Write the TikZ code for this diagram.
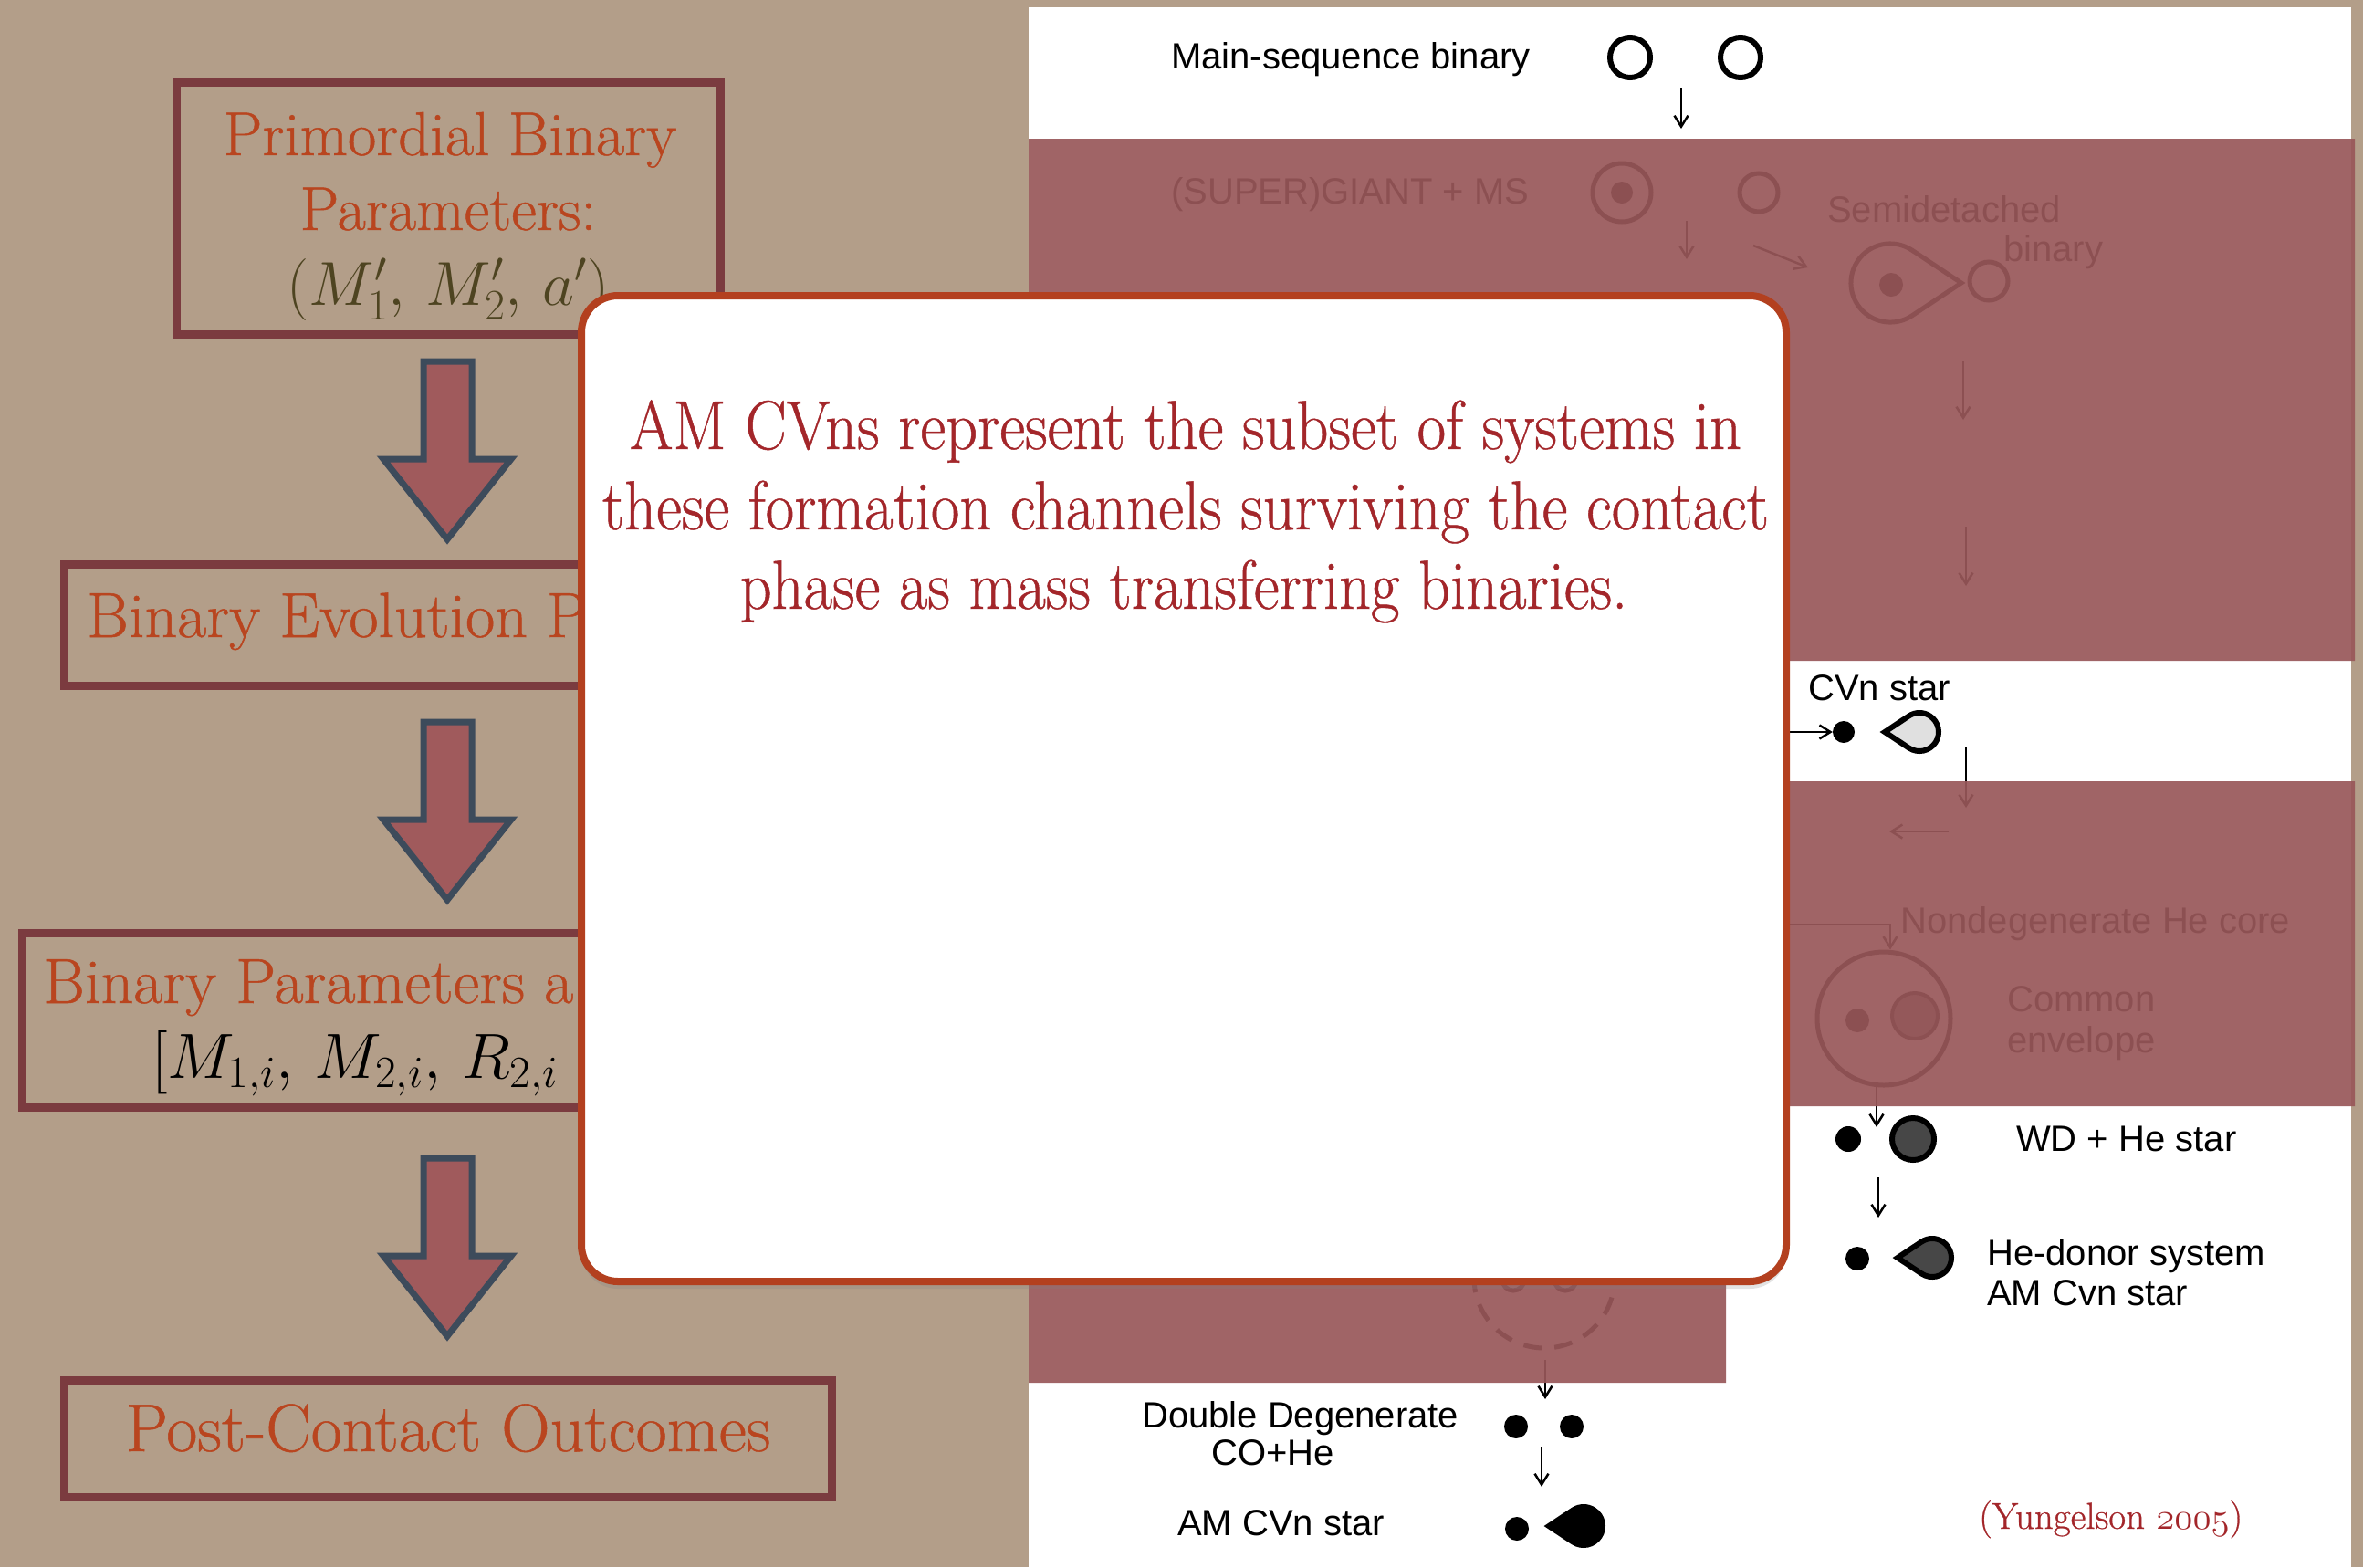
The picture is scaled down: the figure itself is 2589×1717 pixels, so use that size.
\RequirePackage{fix-cm}
\documentclass[tikz,border=0pt]{standalone}
\usepackage{fontspec}
\setsansfont{Liberation Sans}
\newfontfamily\notefont[FakeStretch=0.9, FakeBold=0.6]{Latin Modern Roman}
\newfontfamily\stagefont[FakeBold=0.7]{Latin Modern Roman}
\usetikzlibrary{arrows.meta,shadows}

\definecolor{paper}{HTML}{B39E89}
\definecolor{boxline}{HTML}{7B3B3F}
\definecolor{rust}{HTML}{B9451F}
\definecolor{olive}{HTML}{4E4421}
\definecolor{arrowfill}{HTML}{A05A5C}
\definecolor{arrowline}{HTML}{3D4B5B}
\definecolor{veil}{RGB}{152,87,89}
\definecolor{notered}{HTML}{A3262A}
\definecolor{calloutline}{HTML}{B3401F}

\tikzset{
  stage/.style={draw=boxline, line width=9pt, inner sep=0pt},
  stagetext/.style={text=rust, font=\stagefont\fontsize{70}{82}\selectfont, inner sep=0pt, anchor=base},
  bigarrow/.style={fill=arrowfill, draw=arrowline, line width=7pt},
  lab/.style={font=\sffamily\fontsize{40}{46}\selectfont, anchor=base west, inner sep=0pt},
  ring/.style={circle, draw, line width=6pt, inner sep=0pt, minimum size=44pt},
  core/.style={circle, fill, inner sep=0pt, minimum size=26pt},
  flow/.style={line width=2.5pt, -{Straight Barb[length=12pt,width=15pt]}},
  notetext/.style={text=notered, font=\notefont\fontsize{76}{88}\selectfont, inner sep=0pt, anchor=base},
  pics/donor/.style={code={
    \draw[pic actions] (-38,0) -- (123:21) arc[start angle=123, end angle=-123, radius=21] -- cycle;
  }},
}

\begin{document}
\begin{tikzpicture}[x=1pt, y=-1pt]
\useasboundingbox (0,0) rectangle (2589,1717);
\fill[paper] (0,0) rectangle (2589,1717);

% left column: stages of the population synthesis
\node[stage, minimum width=596pt, minimum height=276pt] (primordial) at (491.5,228.5) {};
\node[stagetext, font=\stagefont\fontsize{68}{80}\selectfont] (primordial-l1) at (493,170) {Primordial Binary};
\node[stagetext, font=\stagefont\fontsize{68}{80}\selectfont] (primordial-l2) at (491,252) {Parameters:};
\node[stagetext, font=\fontsize{68}{80}\selectfont, text=olive] (primordial-l3) at (491,334) {$(M_1',\, M_2',\, a')$};

\node[stage, minimum width=841pt, minimum height=133pt] (evolution) at (491,685) {};
\node[stagetext, anchor=base west] (evolution-l1) at (95,698) {Binary Evolution P};

\node[stage, minimum width=933pt, minimum height=191pt] (contact) at (491,1118) {};
\node[stagetext, anchor=base west] (contact-l1) at (47,1099) {Binary Parameters a};
\node[stagetext, anchor=base west, text=black] (contact-l2) at (166,1181) {$[M_{1,i},\, M_{2,i},\, R_{2,i}$};

\node[stage, minimum width=841pt, minimum height=128pt] (outcomes) at (491,1576.5) {};
\node[stagetext, font=\stagefont\fontsize{74}{86}\selectfont] (outcomes-l1) at (491,1590) {Post-Contact Outcomes};

\foreach \t in {392,787,1265}
  \draw[bigarrow] (464,\t+4) -- (517,\t+4) -- (517,\t+111) -- (560,\t+111)
    -- (490,\t+199) -- (420,\t+111) -- (464,\t+111) -- cycle;

% right panel: formation channels
\fill[white] (1127,8) rectangle (2576,1717);

\node[lab] (ms-label) at (1283,75) {Main-sequence binary};
\node[ring] (ms1) at (1786,63) {};
\node[ring] (ms2) at (1907,63) {};
\coordinate (ms-out) at (1842,96);
\coordinate (sg-in) at (1842,141);
\draw[flow] (ms-out) -- (sg-in);

\node[lab] (sg-label) at (1283,223) {(SUPER)GIANT + MS};
\node[ring, line width=5pt, minimum size=64pt] (giant) at (1777,211) {};
\node[core, minimum size=24pt] (giant-core) at (giant) {};
\node[ring, line width=5pt, minimum size=42pt] (sg-ms) at (1927,211) {};
\coordinate (sg-out) at (1848,242);
\coordinate (sg-end) at (1848,284);
\draw[flow] (sg-out) -- (sg-end);
\coordinate (sd-from) at (1921,269);
\coordinate (sd-to) at (1981,293);
\draw[flow] (sd-from) -- (sd-to);

\node[lab] (sd-label1) at (2002,243) {Semidetached};
\node[lab] (sd-label2) at (2195,286) {binary};
\pic[draw, line width=5pt, rotate=180, scale=2.05] at (2071,310) {donor};
\node[core] (sd-core) at (2072,312) {};
\node[ring, line width=5pt, minimum size=42pt] (sd-ms) at (2179,308) {};
\coordinate (sd-out) at (2151,395);
\coordinate (sd-end) at (2151,460);
\draw[flow] (sd-out) -- (sd-end);
\coordinate (rg-out) at (2154,577);
\coordinate (rg-end) at (2154,642);
\draw[flow] (rg-out) -- (rg-end);

\node[lab] (cvn-label) at (1981,767) {CVn star};
\coordinate (cvn-in) at (1900,802);
\node[core, minimum size=24pt] (cvn-wd) at (2020,802) {};
\draw[flow] (cvn-in) -- (cvn-wd.west);
\pic[draw, fill=black!12, line width=6pt] at (2103,802) {donor};
\coordinate (cvn-out) at (2154,818);
\coordinate (cvn-end) at (2154,885);
\draw[flow] (cvn-out) -- (cvn-end);
\coordinate (back-from) at (2135,911);
\coordinate (back-to) at (2070,911);
\draw[flow] (back-from) -- (back-to);

\node[lab] (he-label) at (2082,1022) {Nondegenerate He core};
\node[ring, line width=5pt, minimum size=146pt] (envelope) at (2064,1116) {};
\node[core] (env-wd) at (2035,1118) {};
\node[circle, draw, line width=4pt, fill=black!60, inner sep=0pt, minimum size=50pt] (env-he) at (2098,1113) {};
\coordinate (he-in) at (1900,1013);
\draw[flow] (he-in) -| (envelope.north -| 2071,0);
\node[lab] (env-label1) at (2199,1108) {Common};
\node[lab] (env-label2) at (2199,1153) {envelope};
\coordinate (env-out) at (2056,1190);
\coordinate (wd-in) at (2056,1235);
\draw[flow] (env-out) -- (wd-in);

\node[core, minimum size=28pt] (wd) at (2025,1248) {};
\node[ring, fill=black!72, minimum size=46pt] (he-star) at (2096,1248) {};
\node[lab] (wd-label) at (2209,1261) {WD + He star};
\coordinate (wd-out) at (2058,1290);
\coordinate (don-in) at (2058,1334);
\draw[flow] (wd-out) -- (don-in);
\node[core] (don-wd) at (2035,1379) {};
\pic[draw, fill=black!72, line width=6pt] at (2117,1378) {donor};
\node[lab] (don-label1) at (2177,1386) {He-donor system};
\node[lab] (don-label2) at (2177,1430) {AM Cvn star};

\node[circle, draw, line width=5pt, dash pattern=on 20pt off 14pt, inner sep=0pt, minimum size=154pt] (dd-env) at (1692,1400) {};
\node[ring, line width=5pt, minimum size=24pt] (dd-a) at (1658,1402) {};
\node[ring, line width=5pt, minimum size=24pt] (dd-b) at (1715,1402) {};
\coordinate (dd-out) at (1693,1490);
\coordinate (dd-in) at (1693,1533);
\draw[flow] (dd-out) -- (dd-in);

\node[lab] (dd-label1) at (1251,1564) {Double Degenerate};
\node[lab] (dd-label2) at (1327,1605) {CO+He};
\node[core] (dd-wd1) at (1661,1563) {};
\node[core] (dd-wd2) at (1722,1563) {};
\coordinate (dd-down) at (1689,1585);
\coordinate (am-in) at (1689,1629);
\draw[flow] (dd-down) -- (am-in);
\node[lab] (am-label) at (1290,1682) {AM CVn star};
\node[core] (am-wd) at (1662,1675) {};
\pic[draw, fill=black, line width=6pt] at (1735,1672) {donor};

% translucent veil over the channels not discussed
\fill[veil, fill opacity=0.92] (1127,152) rectangle (2580,724)
  (1930,856) rectangle (2580,1212) (1127,724) rectangle (1891,1515);

% callout
\node[draw=calloutline, fill=white, line width=8pt, rounded corners=40pt,
  minimum width=1320pt, minimum height=1080pt, inner sep=0pt,
  drop shadow={shadow xshift=0pt, shadow yshift=-8pt, opacity=0.22}] (note) at (1297,864) {};

\node[notetext] (note-l1) at (1299,492) {AM CVns represent the subset of systems in};
\node[notetext] (note-l2) at (1299,580) {these formation channels surviving the contact};
\node[notetext] (note-l3) at (1297,667) {phase as mass transferring binaries.};

\node[anchor=base west, inner sep=0pt, text=notered, font=\stagefont\fontsize{41}{48}\selectfont] (cite) at (2168,1675)
  {(Yungelson {\usefont{OML}{cmm}{m}{it}2005})};
\end{tikzpicture}
\end{document}
